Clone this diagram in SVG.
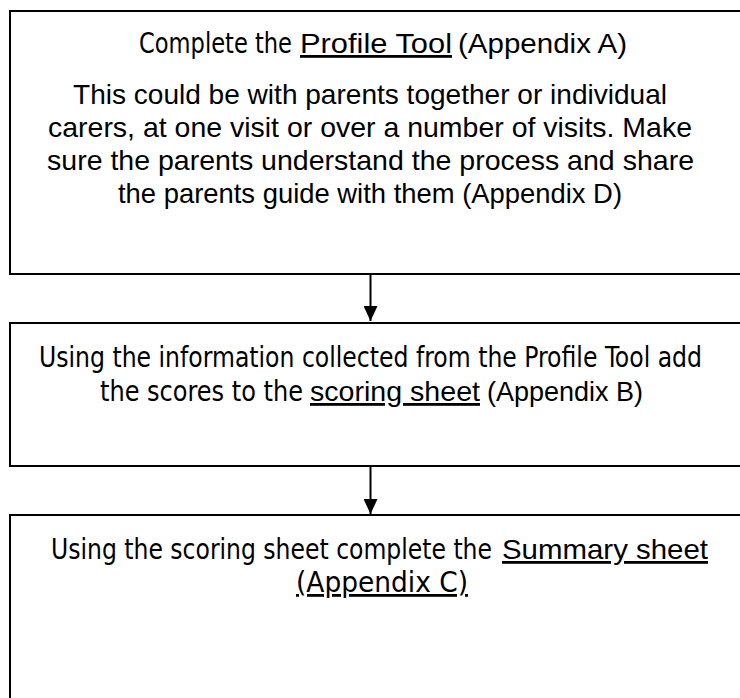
<svg xmlns="http://www.w3.org/2000/svg" width="740" height="698" viewBox="0 0 740 698">
<style>
.box{fill:#fff;stroke:#000;stroke-width:2}
.a{font-family:"Liberation Sans",Arial,sans-serif;font-size:28px;fill:#000}
.n{font-family:"Liberation Sans Narrow","DejaVu Sans Condensed","Liberation Sans",sans-serif;font-size:28px;fill:#000}
.u{text-decoration:underline}
.conn{stroke:#000;stroke-width:2;fill:none}
</style>
<defs>
<marker id="ah" markerWidth="15" markerHeight="14" refX="15" refY="7" orient="auto" markerUnits="userSpaceOnUse" viewBox="0 0 15 14">
<path d="M0,0 L15,7 L0,14 Z" fill="#000"/>
</marker>
</defs>
<g id="node1">
<rect class="box" x="10" y="11" width="740" height="263"/>
<text class="n" x="139" y="53" textLength="153" lengthAdjust="spacingAndGlyphs">Complete the</text>
<text class="a u" x="300" y="53" textLength="152" lengthAdjust="spacingAndGlyphs">Profile Tool</text>
<text class="a" x="458" y="53" textLength="169" lengthAdjust="spacingAndGlyphs">(Appendix A)</text>
<text class="a" x="73" y="104" textLength="594" lengthAdjust="spacingAndGlyphs">This could be with parents together or individual</text>
<text class="a" x="48" y="137" textLength="644" lengthAdjust="spacingAndGlyphs">carers, at one visit or over a number of visits. Make</text>
<text class="a" x="47" y="170" textLength="647" lengthAdjust="spacingAndGlyphs">sure the parents understand the process and share</text>
<text class="a" x="118" y="203" textLength="504" lengthAdjust="spacingAndGlyphs">the parents guide with them (Appendix D)</text>
</g>
<g id="node2">
<rect class="box" x="10" y="323" width="740" height="143"/>
<text class="n" x="39" y="367" textLength="663" lengthAdjust="spacingAndGlyphs">Using the information collected from the Profile Tool add</text>
<text class="n" x="100" y="401" textLength="203" lengthAdjust="spacingAndGlyphs">the scores to the</text>
<text class="a u" x="310" y="401" textLength="170" lengthAdjust="spacingAndGlyphs">scoring sheet</text>
<text class="a" x="487" y="401" textLength="156" lengthAdjust="spacingAndGlyphs">(Appendix B)</text>
</g>
<g id="node3">
<rect class="box" x="10" y="515" width="740" height="200"/>
<text class="n" x="51" y="559" textLength="441" lengthAdjust="spacingAndGlyphs">Using the scoring sheet complete the</text>
<text class="a u" x="502" y="559" textLength="206" lengthAdjust="spacingAndGlyphs">Summary sheet</text>
<text class="n u" x="296" y="592" textLength="172" lengthAdjust="spacingAndGlyphs">(Appendix C)</text>
</g>
<g id="connectors">
<line class="conn" x1="370.5" y1="275" x2="370.5" y2="321" marker-end="url(#ah)"/>
<line class="conn" x1="370.5" y1="467" x2="370.5" y2="514" marker-end="url(#ah)"/>
</g>
</svg>
